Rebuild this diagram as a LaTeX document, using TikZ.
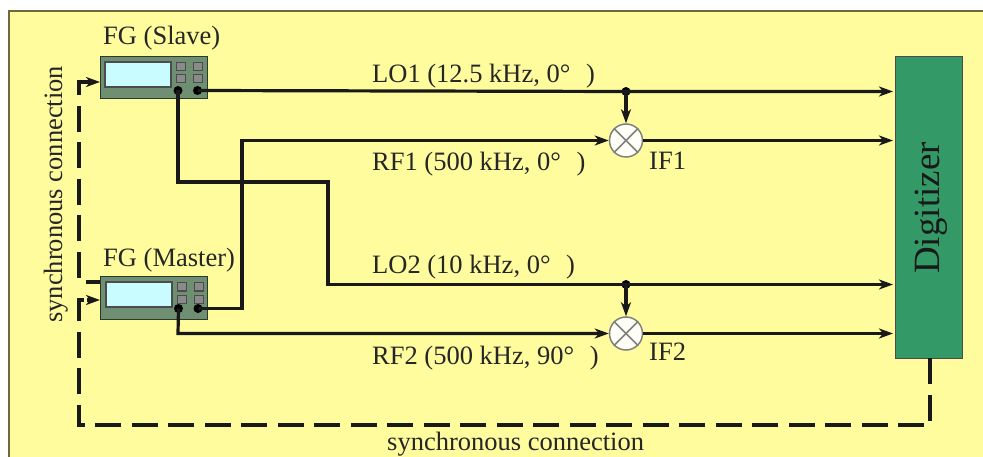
\documentclass[tikz,border=0pt]{standalone}
\usepackage{fontspec}
\setmainfont{Liberation Serif}
\usetikzlibrary{arrows.meta}
\definecolor{bgy}{HTML}{FFFC9E}
\definecolor{frameC}{HTML}{6E6A3C}
\definecolor{fgbody}{HTML}{6F8F73}
\definecolor{scr}{HTML}{C8FCFF}
\definecolor{btn}{HTML}{8A8A8A}
\definecolor{digi}{HTML}{339966}
\definecolor{mixg}{HTML}{808080}
\tikzset{
  x=1pt,y=-1pt,
  wire/.style={line width=3.2pt,black!90,line join=miter},
  arr/.style={wire,-{Stealth[length=14pt,width=10pt,inset=4pt]}},
  dashw/.style={line width=3.2pt,black!90,dash pattern=on 26pt off 10.5pt,line join=miter},
  lbl/.style={font=\fontsize{26.5}{26.5}\selectfont,inner sep=0pt,anchor=base west,text=black!85},
  dotc/.style={circle,fill=black,inner sep=0pt,minimum size=9pt},
  mixer/.style={circle,draw=mixg,fill=white!92!bgy,line width=1.5pt,minimum size=33pt,inner sep=0pt},
  fgbox/.style={draw=black!60!fgbody,fill=fgbody,line width=1pt,minimum width=107pt,minimum height=42pt,inner sep=0pt},
}
\newcommand{\fgface}[3]{% name, x, y (top left of body)
  \fill[draw=black!70,line width=1.2pt,fill=scr] (#2+5,#3+5) rectangle (#2+71,#3+30);
  \foreach \bx in {76,93}{\foreach \by in {6,18}{
    \fill[draw=black!70,line width=1pt,fill=btn] (#2+\bx,#3+\by) rectangle (#2+\bx+9,#3+\by+8);}}
}
\begin{document}
\begin{tikzpicture}
\useasboundingbox (0,0) rectangle (983,457);
\fill[white] (0,0) rectangle (983,457);
\begin{scope}
\clip (0,0) rectangle (983,457);
\fill[bgy,draw=frameC,line width=1.3pt] (9,11) rectangle (995,470);
\end{scope}
% instruments
\node[fgbox] (slave) at (153.5,78) {};
\fgface{slave}{100}{57}
\node[fgbox] (master) at (154,298) {};
\fgface{master}{101}{277}
\node[draw=black!70,fill=digi,line width=1pt,minimum width=67pt,minimum height=302pt,inner sep=0pt] (dig) at (929,207.5) {};
\node[rotate=90,font=\fontsize{37}{37}\selectfont,text=black!90] (digl) at (931,208) {Digitizer};
% ports
\node[dotc] (sa) at (178,90.5) {};
\node[dotc] (sb) at (197.5,90.5) {};
\node[dotc] (ma) at (178.5,308.5) {};
\node[dotc] (mb) at (198,308.5) {};
% mixers
\node[mixer] (m1) at (626,140.5) {};
\node[mixer] (m2) at (626,333.5) {};
\foreach \m in {m1,m2}{
  \draw[mixg,line width=1.5pt] (\m.north west) -- (\m.south east) (\m.north east) -- (\m.south west);
}
% junctions
\node[dotc] (j1) at (626,91.5) {};
\node[dotc] (j2) at (626,284.5) {};
\coordinate (d1) at (893,91.5);
\coordinate (d2) at (893,140.5);
\coordinate (d3) at (893,284.5);
\coordinate (d4) at (893,333.5);
% solid wires
\draw[arr] (sb.center) -- (j1.center) -- (d1);
\draw[arr] (j1.center) -- (m1.north);
\draw[arr] (mb.center) -- (242,308.5) -- (242,140.5) -- (m1.west);
\draw[arr] (m1.east) -- (d2);
\draw[arr] (sa.center) -- (178,182) -- (328,182) -- (328,284.5) -- (j2.center) -- (d3);
\draw[arr] (j2.center) -- (m2.north);
\draw[arr] (ma.center) -- (178,333.5) -- (m2.west);
\draw[arr] (m2.east) -- (d4);
% dashed synchronous
\coordinate (digout) at (930,358);
\coordinate (mastin) at (85,300);
\coordinate (mastarr) at (87,300);
\coordinate (mastport) at (100,300);
\coordinate (mastout) at (100,282);
\coordinate (maststub) at (86,282);
\coordinate (slavestart) at (79,278);
\coordinate (slaveport) at (100,82);
\draw[dashw] (digout) -- (930,425) -- (79,425) -- (79,300) -- (mastin);
\draw[arr] (mastarr) -- (mastport);
\draw[wire] (mastout) -- (maststub);
\draw[dashw] (slavestart) -- (79,82) -- (92,82);
\draw[arr] (86,82) -- (slaveport);
% labels
\node[lbl] at (103,45) {FG (Slave)};
\node[lbl] at (103,266) {FG (Master)};
\node[lbl] at (372,82.5) {LO1 (12.5 kHz, 0°\hspace{9pt} )};
\node[lbl] at (372,171) {RF1 (500 kHz, 0°\hspace{9pt} )};
\node[lbl] at (372,274) {LO2 (10 kHz, 0°\hspace{9pt} )};
\node[lbl] at (372,364.5) {RF2 (500 kHz, 90°\hspace{9pt} )};
\node[lbl] at (649,170) {IF1};
\node[lbl] at (649,360) {IF2};
\node[lbl,rotate=90] at (62,323) {synchronous connection};
\node[lbl] at (387,450) {synchronous connection};
\end{tikzpicture}
\end{document}
